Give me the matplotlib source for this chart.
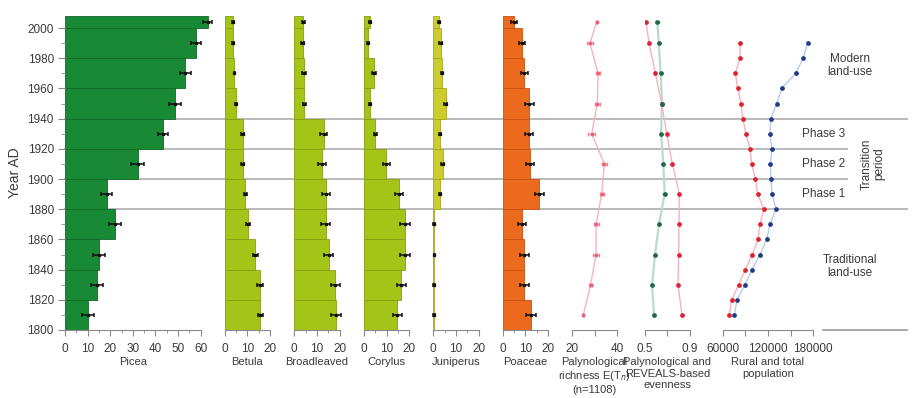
import numpy as np
import matplotlib
matplotlib.use("Agg")
import matplotlib.pyplot as plt
from matplotlib.ticker import MultipleLocator, FixedLocator

plt.rcParams['font.family'] = ['Liberation Sans', 'DejaVu Sans']

# --- data ---
bin_edges = [1800, 1820, 1840, 1860, 1880, 1900, 1920, 1940, 1960, 1980, 2000, 2008]
bin_mid = [1810, 1830, 1850, 1870, 1890, 1910, 1930, 1950, 1970, 1990, 2004]

picea = [10.3, 14.3, 15.0, 22.1, 18.4, 32.2, 43.4, 48.7, 53.2, 58.0, 63.1]
picea_err = [2.6, 2.6, 2.7, 2.7, 2.4, 2.8, 2.3, 2.5, 2.4, 2.3, 2.0]
betula = [15.7, 15.6, 13.5, 10.3, 9.1, 7.9, 7.9, 5.0, 4.3, 3.8, 3.8]
betula_err = [1.2, 1.2, 1.1, 0.8, 0.6, 0.5, 0.5, 0.4, 0.4, 0.4, 0.4]
broadleaved = [18.5, 18.0, 15.2, 13.9, 13.9, 12.4, 13.0, 4.4, 4.3, 3.7, 4.0]
broadleaved_err = [2.3, 2.0, 2.0, 1.9, 1.7, 1.8, 1.6, 0.7, 0.7, 0.6, 0.7]
corylus = [14.7, 16.5, 18.1, 18.2, 15.4, 9.9, 5.0, 2.6, 4.4, 1.9, 2.6]
corylus_err = [2.1, 2.0, 2.2, 2.1, 1.8, 1.4, 0.7, 0.6, 0.7, 0.5, 0.6]
juniperus = [0.3, 0.3, 0.4, 0.3, 2.9, 4.1, 3.1, 5.4, 3.8, 3.2, 2.5]
juniperus_err = [0.3, 0.3, 0.3, 0.3, 0.5, 0.6, 0.5, 0.6, 0.5, 0.5, 0.5]
poaceae = [12.5, 9.6, 9.6, 8.5, 16.2, 12.1, 11.6, 11.8, 9.6, 8.5, 5.1]
poaceae_err = [2.2, 2.0, 2.0, 1.8, 2.1, 1.9, 1.6, 1.8, 1.5, 1.3, 1.3]

richness = [25.0, 28.2, 30.6, 30.6, 33.1, 34.3, 28.7, 31.2, 31.5, 27.9, 30.9]
richness_err = [0.3, 0.6, 1.2, 1.1, 0.9, 1.0, 1.5, 1.0, 1.0, 1.2, 0.3]
even_pollen = [0.829, 0.794, 0.800, 0.803, 0.806, 0.744, 0.694, 0.650, 0.594, 0.538, 0.512]
even_reveals = [0.582, 0.565, 0.591, 0.626, 0.676, 0.665, 0.644, 0.653, 0.641, 0.624, 0.612]
even_reveals_err = [0.006, 0.008, 0.01, 0.01, 0.01, 0.008, 0.006, 0.01, 0.008, 0.008, 0.01]

pop_years = [1810, 1820, 1830, 1840, 1850, 1860, 1870, 1880, 1890, 1900,
             1910, 1920, 1930, 1940, 1950, 1960, 1970, 1980, 1990]
rural_pop = [68700, 71900, 81200, 89900, 99200, 106800, 109400, 114300, 106400, 103200,
             98400, 96200, 90500, 86900, 84200, 79900, 76700, 82900, 82900]
total_pop = [75400, 78900, 89500, 98800, 109400, 118300, 122600, 130600, 125300, 124000,
             123000, 125300, 122600, 123600, 131500, 138100, 156700, 166400, 172600]

# --- layout helpers (pixel positions) ---
W, H = 920, 398
TOP, BOT = 16, 330
fig = plt.figure(figsize=(W / 100, H / 100), dpi=100)
TXT = '#3a3a3a'
FS = 8

def panel(x0, x1):
    ax = fig.add_axes([x0 / W, 1 - BOT / H, (x1 - x0) / W, (BOT - TOP) / H])
    ax.set_facecolor('none')
    ax.set_ylim(1800, 2008)
    for s in ['left', 'top', 'right']:
        ax.spines[s].set_visible(False)
    ax.spines['bottom'].set_color('#8a8a8a')
    ax.tick_params(axis='x', which='both', direction='out', color='#8a8a8a',
                   labelcolor=TXT, labelsize=8.5, pad=5)
    ax.tick_params(axis='x', which='major', length=4)
    ax.tick_params(axis='x', which='minor', length=2.5)
    ax.tick_params(axis='y', left=False, labelleft=False)
    ax.set_zorder(2)
    return ax

# background axes for zone lines and labels
bg = fig.add_axes([0, 1 - BOT / H, 1, (BOT - TOP) / H])
bg.set_xlim(0, W)
bg.set_ylim(1800, 2008)
bg.axis('off')
bg.set_zorder(0)
for yr, xend in [(1940, 907), (1880, 907), (1920, 847), (1900, 847)]:
    bg.plot([65, xend], [yr, yr], color='#b4b4b4', lw=1.3)
bg.plot([823, 907], [1800, 1800], color='#9a9a9a', lw=1.2, clip_on=False)

txt = dict(fontsize=8.5, color=TXT, ha='center', va='center', linespacing=1.1)
bg.text(850, 1975.5, 'Modern\nland-use', **txt)
bg.text(824, 1930, 'Phase 3', **txt)
bg.text(824, 1910, 'Phase 2', **txt)
bg.text(824, 1890, 'Phase 1', **txt)
bg.text(873, 1910, 'Transition\nperiod', rotation=90, **txt)
bg.text(850, 1842, 'Traditional\nland-use', **txt)

heights = np.diff(bin_edges)
lefts = np.array(bin_edges[:-1])

def bars(ax, vals, errs, color, edge, xmax, label):
    ax.barh(lefts, vals, height=heights, align='edge', color=color,
            edgecolor=edge, linewidth=0.6, clip_on=False)
    ax.errorbar(vals, bin_mid, xerr=errs, fmt='s', ms=2, color='#111111',
                ecolor='#111111', elinewidth=1.1, capsize=1.6, capthick=1.1, clip_on=False)
    ax.set_xlim(0, xmax)
    ax.xaxis.set_major_locator(MultipleLocator(10))
    ax.xaxis.set_minor_locator(MultipleLocator(5))
    ax.set_xlabel(label, fontsize=FS, color=TXT, labelpad=2)

green = '#188a35'
yg = '#a5c418'
ax = panel(65, 200.7)
bars(ax, picea, picea_err, green, '#0f6a26', 60, 'Picea')
ax.tick_params(axis='y', which='both', left=True, labelleft=True, direction='out',
               color='#8a8a8a', labelcolor=TXT, labelsize=8.5, pad=3)
ax.tick_params(axis='y', which='major', length=5)
ax.tick_params(axis='y', which='minor', length=3)
ax.yaxis.set_major_locator(FixedLocator(range(1800, 2001, 20)))
ax.yaxis.set_minor_locator(FixedLocator(range(1810, 2001, 20)))
ax.set_ylabel('Year AD', fontsize=10, color=TXT, labelpad=4)

bars(panel(224.7, 270), betula, betula_err, yg, '#83a010', 20, 'Betula')
bars(panel(294.3, 339.6), broadleaved, broadleaved_err, yg, '#83a010', 20, 'Broadleaved')
bars(panel(364, 409.3), corylus, corylus_err, yg, '#83a010', 20, 'Corylus')
bars(panel(433.3, 478.6), juniperus, juniperus_err, '#cbcc2e', '#a8a820', 20, 'Juniperus')
bars(panel(502.7, 548), poaceae, poaceae_err, '#ec6a1e', '#c8520f', 20, 'Poaceae')

# richness
ax = panel(572, 617.3)
ax.plot(richness, bin_mid, color='#f6b4bc', lw=1.0)
ax.errorbar(richness, bin_mid, xerr=richness_err, fmt='o', ms=1.8, color='#ec6078',
            ecolor='#f08898', elinewidth=1, capsize=1.5)
ax.set_xlim(20, 40)
ax.set_xticks([20, 30, 40])
ax.set_xticklabels(['20', '', '40'])
ax.set_xlabel('Palynological\nrichness E(T$_n$)\n(n=1108)', fontsize=FS, color=TXT,
              labelpad=2, linespacing=1.2)

# evenness
ax = panel(644.7, 690)
ax.plot(even_reveals, bin_mid, color='#b8dccb', lw=1.6)
ax.errorbar(even_reveals, bin_mid, xerr=even_reveals_err, fmt='o', ms=2.4,
            color='#1e6b47', ecolor='#1e6b47', elinewidth=1.2, capsize=1)
ax.plot(even_pollen, bin_mid, color='#f6b4bc', lw=1.0)
ax.plot(even_pollen, bin_mid, 'o', ms=2.4, color='#e0203c')
ax.set_xlim(0.5, 0.9)
ax.set_xticks([0.5, 0.7, 0.9])
ax.set_xticklabels(['0.5', '', '0.9'])
ax.set_xlabel('Palynological and\nREVEALS-based\nevenness', fontsize=FS, color=TXT,
              labelpad=2, linespacing=1.2)

# population
ax = panel(722.7, 813.3)
ax.plot(total_pop, pop_years, color='#b4cdf0', lw=1.0)
ax.plot(total_pop, pop_years, 'o', ms=2.4, color='#1f3a8a')
ax.plot(rural_pop, pop_years, color='#f6b4bc', lw=1.0)
ax.plot(rural_pop, pop_years, 'o', ms=2.4, color='#e0202c')
ax.set_xlim(60000, 180000)
ax.set_xticks([60000, 90000, 120000, 150000, 180000])
ax.set_xticklabels(['60000', '', '120000', '', '180000'])
ax.set_xlabel('Rural and total\npopulation', fontsize=FS, color=TXT,
              labelpad=2, linespacing=1.2)

fig.savefig('out.png', dpi=100)
